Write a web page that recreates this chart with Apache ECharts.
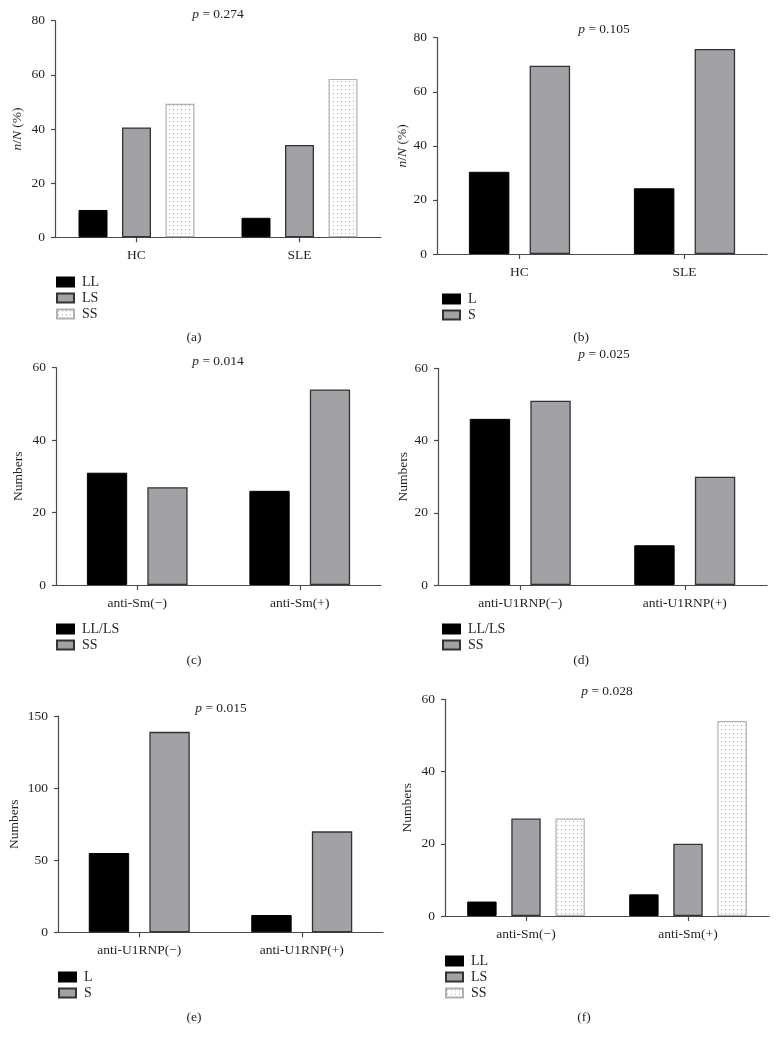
<!DOCTYPE html>
<html>
<head>
<meta charset="utf-8">
<script src="https://cdn.jsdelivr.net/npm/echarts@6/dist/echarts.min.js"></script>
<style>
html,body{margin:0;padding:0;background:#fff;}
#chart{width:778px;height:1043px;}
</style>
</head>
<body>
<div id="chart"></div>
<script>
// ---- data ----
const catsA = ['HC', 'SLE'];
const aLL = [10.1, 7.2];
const aLS = [40.6, 34.1];
const aSS = [49.3, 58.5];

const catsB = ['HC', 'SLE'];
const bL = [30.4, 24.3];
const bS = [69.6, 75.8];

const catsC = ['anti-Sm(\u2212)', 'anti-Sm(+)'];
const cLLLS = [31, 26];
const cSS = [27, 54];

const catsD = ['anti-U1RNP(\u2212)', 'anti-U1RNP(+)'];
const dLLLS = [46, 11];
const dSS = [51, 30];

const catsE = ['anti-U1RNP(\u2212)', 'anti-U1RNP(+)'];
const eL = [55, 12];
const eS = [139, 70];

const catsF = ['anti-Sm(\u2212)', 'anti-Sm(+)'];
const fLL = [4, 6];
const fLS = [27, 20];
const fSS = [27, 54];

const yMax = [80, 80, 60, 60, 150, 60];
const yStep = [20, 20, 20, 20, 50, 20];
const pValues = ['0.274', '0.105', '0.014', '0.025', '0.015', '0.028'];
const yNames = ['{i|n}/{i|N} (%)', '{i|n}/{i|N} (%)', 'Numbers', 'Numbers', 'Numbers', 'Numbers'];
const captions = ['(a)', '(b)', '(c)', '(d)', '(e)', '(f)'];

// ---- styles ----
const FONT = 'Liberation Serif';
const TXT = '#231f20';
const AX = '#4a4a4a';

const pc = document.createElement('canvas');
pc.width = 4; pc.height = 4;
const pctx = pc.getContext('2d');
pctx.fillStyle = '#ffffff';
pctx.fillRect(0, 0, 4, 4);
pctx.fillStyle = '#a8a8a8';
pctx.fillRect(1, 1, 1, 1);
const dotted = { image: pc, repeat: 'repeat' };

const STY = {
  black: { color: '#000000', borderColor: '#000000', borderWidth: 1 },
  gray: { color: '#a1a1a6', borderColor: '#333333', borderWidth: 1.3 },
  dot: { color: dotted, borderColor: '#b0b0b0', borderWidth: 1.2 }
};

// panel layout
const grids = [
  { left: 55, top: 20.7, width: 326, height: 216.6 },
  { left: 437, top: 37.7, width: 330, height: 216.3 },
  { left: 56, top: 367.7, width: 325, height: 217.3 },
  { left: 438, top: 368.3, width: 329, height: 216.7 },
  { left: 58, top: 716, width: 325, height: 216.3 },
  { left: 445, top: 699.3, width: 324, height: 216.7 }
];
const nameGaps = [31, 25, 31, 25, 37, 31];
const titlePos = [[218, 14], [604, 29], [218, 361], [604, 354], [221, 708], [607, 691]];
const captionPos = [[194, 337], [581, 337], [194, 660], [581, 660], [194, 1017], [584, 1017]];
const legendPos = [[56, 274], [442, 291], [56, 621], [442, 621], [58, 969], [445, 953]];

const panels = [
  { cats: catsA, bw: 29, ser: [['LL', aLL, 'black'], ['LS', aLS, 'gray'], ['SS', aSS, 'dot']] },
  { cats: catsB, bw: 40.5, ser: [['L', bL, 'black'], ['S', bS, 'gray']] },
  { cats: catsC, bw: 40.3, ser: [['LL/LS', cLLLS, 'black'], ['SS', cSS, 'gray']] },
  { cats: catsD, bw: 40.4, ser: [['LL/LS', dLLLS, 'black'], ['SS', dSS, 'gray']] },
  { cats: catsE, bw: 40.4, ser: [['L', eL, 'black'], ['S', eS, 'gray']] },
  { cats: catsF, bw: 29.4, ser: [['LL', fLL, 'black'], ['LS', fLS, 'gray'], ['SS', fSS, 'dot']] }
];

const option = {
  animation: false,
  backgroundColor: '#ffffff',
  textStyle: { fontFamily: FONT },
  grid: [], xAxis: [], yAxis: [], series: [], legend: [], graphic: []
};

panels.forEach((p, i) => {
  option.grid.push(Object.assign({ containLabel: false }, grids[i]));
  option.xAxis.push({
    type: 'category', gridIndex: i, data: p.cats,
    axisLine: { show: true, lineStyle: { color: AX, width: 1.2 } },
    axisTick: { show: true, alignWithLabel: true, length: 5, lineStyle: { color: AX, width: 1.2 } },
    axisLabel: { color: TXT, fontFamily: FONT, fontSize: 13.5, margin: 11 },
    splitLine: { show: false }
  });
  option.yAxis.push({
    type: 'value', gridIndex: i, min: 0, max: yMax[i], interval: yStep[i],
    name: yNames[i], nameLocation: 'middle', nameGap: nameGaps[i], nameRotate: 90,
    nameTextStyle: { color: TXT, fontFamily: FONT, fontSize: 13.5,
      rich: { i: { fontStyle: 'italic', fontFamily: FONT, fontSize: 13.5, color: TXT } } },
    axisLine: { show: true, lineStyle: { color: AX, width: 1.2 } },
    axisTick: { show: true, length: 4, lineStyle: { color: AX, width: 1.2 } },
    axisLabel: { color: TXT, fontFamily: FONT, fontSize: 13.5, margin: 10 },
    splitLine: { show: false }
  });
  const names = [];
  p.ser.forEach(([nm, vals, st]) => {
    const sname = nm + '_' + i;
    names.push(sname);
    option.series.push({
      type: 'bar', name: sname, xAxisIndex: i, yAxisIndex: i, data: vals,
      barWidth: p.bw, barGap: '50%',
      itemStyle: STY[st],
      emphasis: { disabled: true }
    });
  });
  option.legend.push({
    data: names, orient: 'vertical', left: legendPos[i][0], top: legendPos[i][1],
    icon: 'rect', itemWidth: 17, itemHeight: 9, itemGap: 0, padding: 0,
    selectedMode: false,
    formatter: (n) => n.split('_')[0],
    textStyle: { color: TXT, fontFamily: FONT, fontSize: 14, lineHeight: 16, padding: [0, 0, 0, 3] }
  });
  option.graphic.push({
    type: 'text', x: titlePos[i][0], y: titlePos[i][1], silent: true,
    style: {
      text: '{i|p} = ' + pValues[i], align: 'center', verticalAlign: 'middle',
      fill: TXT, font: '13.5px "' + FONT + '"',
      rich: { i: { fontStyle: 'italic', fontFamily: FONT, fontSize: 13.5, fill: TXT } }
    }
  });
  option.graphic.push({
    type: 'text', x: captionPos[i][0], y: captionPos[i][1], silent: true,
    style: { text: captions[i], align: 'center', verticalAlign: 'middle', fill: TXT, font: '13.5px "' + FONT + '"' }
  });
});

const chart = echarts.init(document.getElementById('chart'), null, { renderer: 'canvas' });
chart.setOption(option);
</script>
</body>
</html>
